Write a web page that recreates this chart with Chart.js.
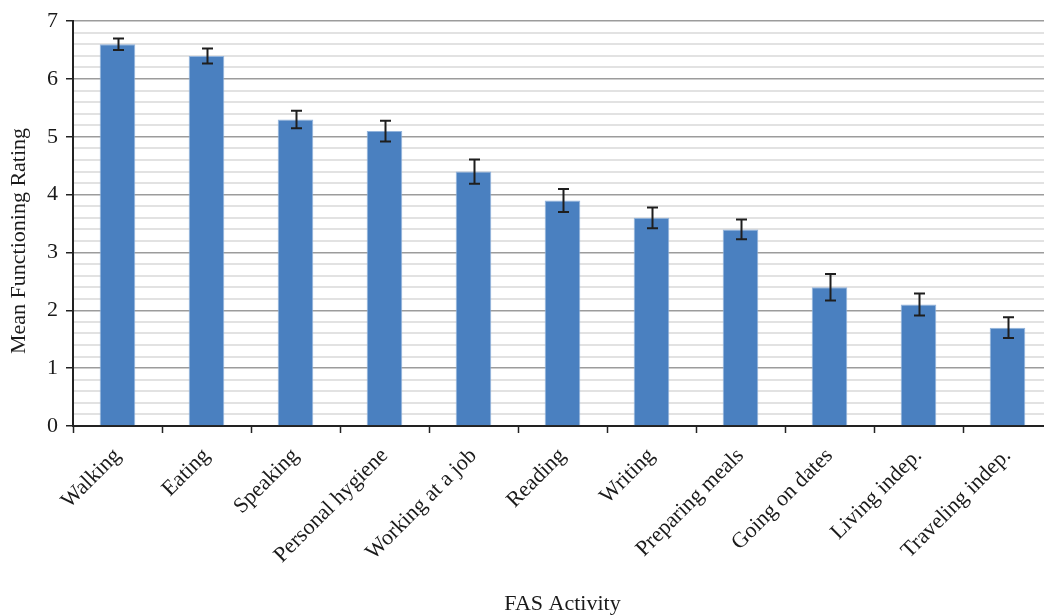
<!DOCTYPE html>
<html>
<head>
<meta charset="utf-8">
<script src="https://cdn.jsdelivr.net/npm/chart.js@4/dist/chart.umd.min.js"></script>
<style>
  html, body { margin: 0; padding: 0; background: #ffffff; overflow: hidden; }
  #wrap { width: 1044px; height: 616px; overflow: hidden; }
  canvas { display: block; }
</style>
</head>
<body>
<div id="wrap"><canvas id="chart" width="1058" height="616"></canvas></div>
<script>
// FAS activities and their mean functioning ratings
const activities = [
  'Walking', 'Eating', 'Speaking', 'Personal hygiene', 'Working at a job',
  'Reading', 'Writing', 'Preparing meals', 'Going on dates', 'Living indep.',
  'Traveling indep.'
];
const meanRatings = [6.6, 6.4, 5.3, 5.1, 4.4, 3.9, 3.6, 3.4, 2.4, 2.1, 1.7];
const ratingErrors = [0.10, 0.13, 0.15, 0.18, 0.21, 0.20, 0.18, 0.17, 0.23, 0.19, 0.18];
const yTickValues = [0, 1, 2, 3, 4, 5, 6, 7];
const xTitle = 'FAS Activity';
const yTitle = 'Mean Functioning Rating';

const serif = '"Liberation Serif", "Times New Roman", serif';
const textColor = '#1a1a1a';
const isWhole = v => Math.abs(v - Math.round(v)) < 1e-6;

// Draws the ± error whiskers on top of each bar
const errorBars = {
  id: 'errorBars',
  afterDatasetsDraw(chart) {
    const meta = chart.getDatasetMeta(0);
    const y = chart.scales.y;
    const ctx = chart.ctx;
    ctx.save();
    ctx.strokeStyle = '#1e1e1e';
    ctx.lineWidth = 2;
    meta.data.forEach((bar, i) => {
      const v = meanRatings[i], e = ratingErrors[i];
      const top = y.getPixelForValue(v + e);
      const bot = y.getPixelForValue(v - e);
      const x = Math.round(bar.x) + 0.5;
      const half = 5.5;
      ctx.beginPath();
      ctx.moveTo(x, top); ctx.lineTo(x, bot);
      ctx.moveTo(x - half, top); ctx.lineTo(x + half, top);
      ctx.moveTo(x - half, bot); ctx.lineTo(x + half, bot);
      ctx.stroke();
    });
    ctx.restore();
  }
};

// Axis titles: the vertical one sits a little below the plot centre
const axisTitles = {
  id: 'axisTitles',
  afterDraw(chart) {
    const ctx = chart.ctx;
    const area = chart.chartArea;
    ctx.save();
    ctx.fillStyle = textColor;
    ctx.font = '22px ' + serif;
    ctx.textAlign = 'center';
    ctx.textBaseline = 'middle';
    ctx.fillText(xTitle, (area.left + area.right) / 2, 604);
    ctx.translate(19, 241);
    ctx.rotate(-Math.PI / 2);
    ctx.fillText(yTitle, 0, 0);
    ctx.restore();
  }
};

new Chart(document.getElementById('chart'), {
  type: 'bar',
  data: {
    labels: activities,
    datasets: [{
      data: meanRatings,
      backgroundColor: '#4a80c0',
      borderColor: '#93b4dc',
      borderWidth: 1,
      barPercentage: 0.4,
      categoryPercentage: 1.0
    }]
  },
  options: {
    responsive: false,
    devicePixelRatio: 1,
    animation: false,
    layout: { padding: { top: 19, right: 6, bottom: 0, left: 0 } },
    plugins: { legend: { display: false }, tooltip: { enabled: false } },
    scales: {
      x: {
        offset: true,
        afterFit(scale) { scale.height = 190; },
        grid: {
          offset: true,
          drawOnChartArea: false,
          drawTicks: true,
          tickLength: 7,
          tickColor: '#222222',
          tickWidth: 1.5
        },
        border: { display: true, color: '#222222', width: 2 },
        ticks: {
          minRotation: 45,
          maxRotation: 45,
          color: textColor,
          padding: 10,
          font: { family: serif, size: 22 }
        }
      },
      y: {
        min: 0,
        max: 7,
        afterFit(scale) { scale.width = 73; },
        afterBuildTicks(scale) {
          const t = [];
          for (let k = 0; k <= 35; k++) t.push({ value: +(k * 0.2).toFixed(1) });
          scale.ticks = t;
        },
        grid: {
          color: c => isWhole(c.tick.value) ? '#9c9c9c' : '#e2e2e2',
          lineWidth: c => isWhole(c.tick.value) ? 1.5 : 2,
          tickColor: c => isWhole(c.tick.value) ? '#222222' : 'rgba(0,0,0,0)',
          tickLength: 7,
          tickWidth: 1.5
        },
        border: { display: true, color: '#222222', width: 2 },
        ticks: {
          autoSkip: false,
          color: textColor,
          padding: 8,
          font: { family: serif, size: 22 },
          callback: v => (isWhole(v) && yTickValues.includes(Math.round(v))) ? String(Math.round(v)) : ''
        }
      }
    }
  },
  plugins: [errorBars, axisTitles]
});
</script>
</body>
</html>
